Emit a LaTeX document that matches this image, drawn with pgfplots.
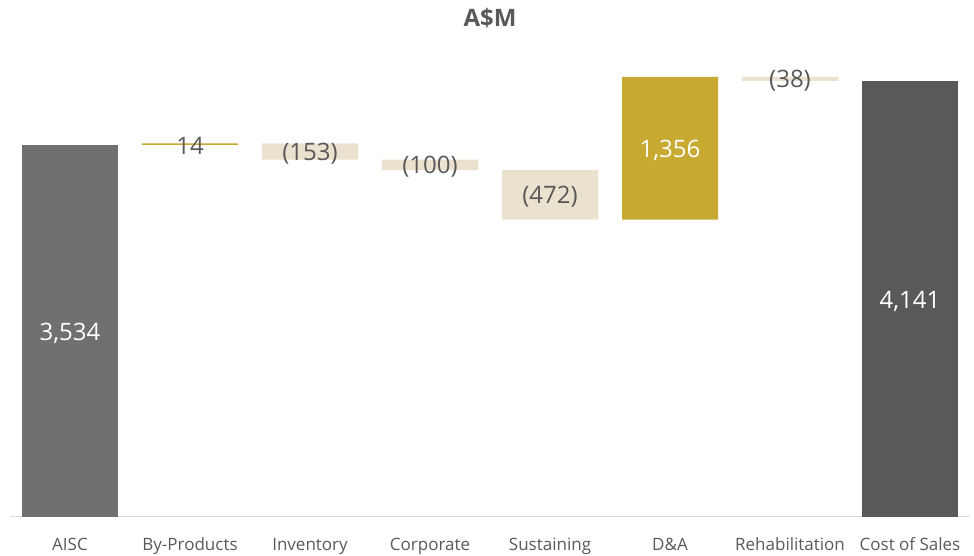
\documentclass[border=0pt]{standalone}
\usepackage{pgfplots}
\pgfplotsset{compat=1.18}
\usepackage{fontspec}
\setmainfont{Open Sans}
\definecolor{aisc}{HTML}{6E7170}
\definecolor{cos}{HTML}{595959}
\definecolor{gold}{HTML}{C8AA33}
\definecolor{beige}{HTML}{EAE1CF}
\definecolor{txtgray}{HTML}{595959}
\definecolor{linegray}{HTML}{D9D9D9}
\begin{document}
\begin{tikzpicture}
\pgfplotsset{wfbase/.style={scale only axis, width=960pt, height=477pt,
  xmin=-0.5, xmax=7.5, ymin=0, ymax=4530, at={(0pt,0pt)}, anchor=south west}}
\path[use as bounding box] (-10pt,-39pt) rectangle (964pt,517pt);
\begin{axis}[wfbase, ybar stacked, bar width=96pt,
  axis x line*=bottom, axis y line=none,
  x axis line style={draw=linegray, line width=1pt},
  ytick=\empty,
  xtick={0,1,2,3,4,5,6,7},
  xticklabels={AISC,By-Products,Inventory,Corporate,Sustaining,D\&A,Rehabilitation,Cost of Sales},
  major tick length=0pt,
  xticklabel style={anchor=base, yshift=-34pt, font=\fontsize{17}{20}\selectfont, text=txtgray},
  title={\fontsize{24}{29}\selectfont\bfseries A\$M},
  title style={at={(0.5,1)}, anchor=center, yshift=16pt, text=txtgray},
]
% invisible base
\addplot[draw=none, fill=none] coordinates {(0,0) (1,3534) (2,3395) (3,3295) (4,2823) (5,2823) (6,4141) (7,0)};
% AISC
\addplot[draw=none, fill=aisc] coordinates {(0,3534) (1,0) (2,0) (3,0) (4,0) (5,0) (6,0) (7,0)};
% gold increases
\addplot[draw=none, fill=gold] coordinates {(0,0) (1,14) (2,0) (3,0) (4,0) (5,1356) (6,0) (7,0)};
% beige decreases
\addplot[draw=none, fill=beige] coordinates {(0,0) (1,0) (2,153) (3,100) (4,472) (5,0) (6,38) (7,0)};
% Cost of Sales
\addplot[draw=none, fill=cos] coordinates {(0,0) (1,0) (2,0) (3,0) (4,0) (5,0) (6,0) (7,4141)};
\end{axis}
\begin{axis}[wfbase, hide axis]
\addplot[draw=none, nodes near coords, point meta=explicit symbolic,
  every node near coord/.append style={anchor=center, yshift=-2pt, text=white, font=\fontsize{24}{28}\selectfont}]
  table[meta=label] {
x y label
0 1767 3,534
5 3501 1,356
7 2070 4,141
};
\addplot[draw=none, nodes near coords, point meta=explicit symbolic,
  every node near coord/.append style={anchor=center, yshift=-2pt, text=txtgray, font=\fontsize{24}{28}\selectfont}]
  table[meta=label] {
x y label
1 3541 14
2 3471 (153)
3 3345 (100)
4 3059 (472)
6 4160 (38)
};
\end{axis}
\end{tikzpicture}
\end{document}
